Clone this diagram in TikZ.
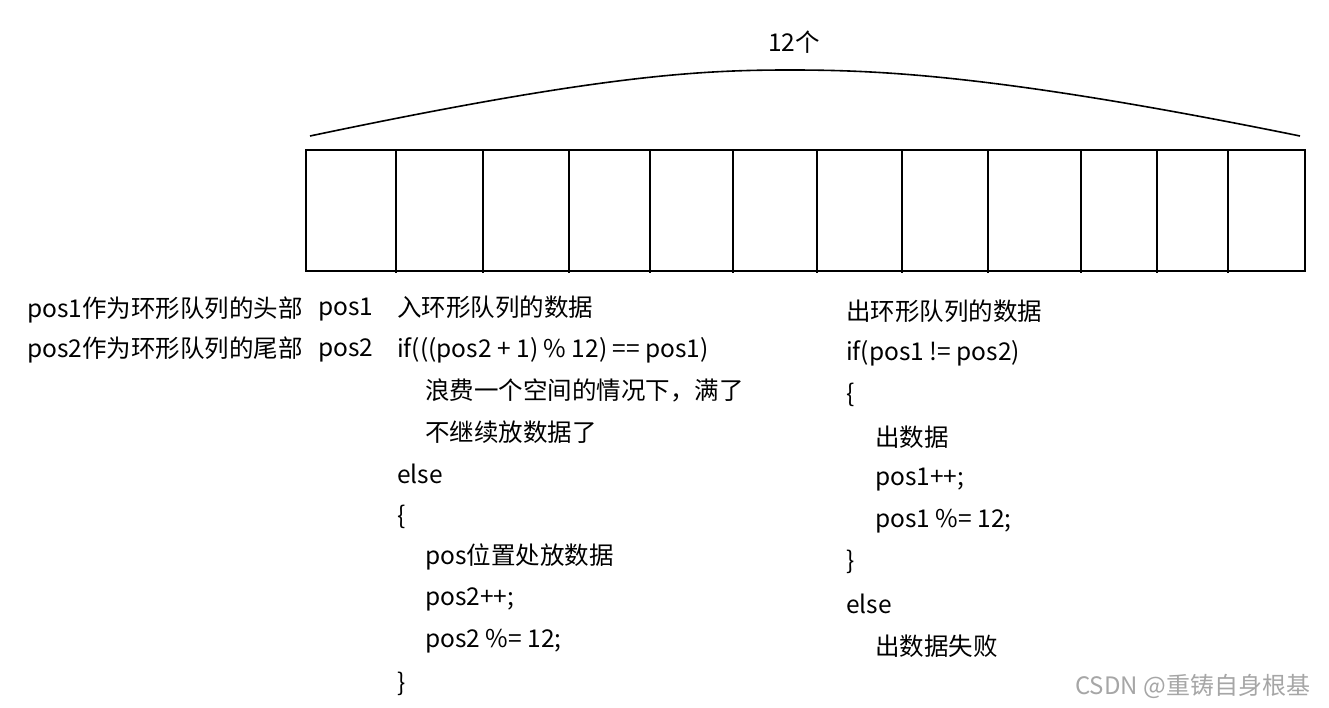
\documentclass[tikz,border=0pt]{standalone}
\usepackage{fontspec}
\setmainfont{Noto Sans CJK SC}
\begin{document}
\begin{tikzpicture}[x=1pt,y=-1pt,
  txt/.style={anchor=west,inner sep=0pt,font=\fontsize{24.5}{28}\selectfont},
  cellline/.style={line width=1.6pt}]
\useasboundingbox (0,0) rectangle (1329,708);
\draw[cellline] (306,150) rectangle (1305,271);
\foreach \x in {396,483,569,650,733,817,902,988,1081,1157,1228}
  \draw[cellline] (\x,150) -- (\x,273);
\draw[line width=1.6pt] (310,136) .. controls (600,75) and (700,70) .. (790,70) .. controls (880,70) and (1000,75) .. (1300,136);
\node[txt] (n12) at (768,42) {12个};
\node[txt] (l1) at (27,310) {pos1作为环形队列的头部};
\node[txt] (l1b) at (318,310) {pos1};
\node[txt] (l2) at (27,350) {pos2作为环形队列的尾部};
\node[txt] (l2b) at (318,350) {pos2};
\node[txt] (m1) at (397,307) {入环形队列的数据};
\node[txt] (m2) at (397,350) {if(((pos2 + 1) \% 12) == pos1)};
\node[txt] (m3) at (425,390) {浪费一个空间的情况下，满了};
\node[txt] (m4) at (425,432) {不继续放数据了};
\node[txt] (m5) at (397,474) {else};
\node[txt] (m6) at (397,517) {\{};
\node[txt] (m7) at (425,557) {pos位置处放数据};
\node[txt] (m8) at (425,599) {pos2++;};
\node[txt] (m9) at (425,641) {pos2 \%= 12;};
\node[txt] (m10) at (397,684) {\}};
\node[txt] (r1) at (846,311) {出环形队列的数据};
\node[txt] (r2) at (846,353) {if(pos1 != pos2)};
\node[txt] (r3) at (846,395) {\{};
\node[txt] (r4) at (875,437) {出数据};
\node[txt] (r5) at (875,480) {pos1++;};
\node[txt] (r6) at (875,521) {pos1 \%= 12;};
\node[txt] (r7) at (846,562) {\}};
\node[txt] (r8) at (846,604) {else};
\node[txt] (r9) at (875,646) {出数据失败};
\node[txt,text=black!35,font=\fontsize{24}{28}\selectfont] (wm) at (1075,686) {CSDN @重铸自身根基};
\end{tikzpicture}
\end{document}
